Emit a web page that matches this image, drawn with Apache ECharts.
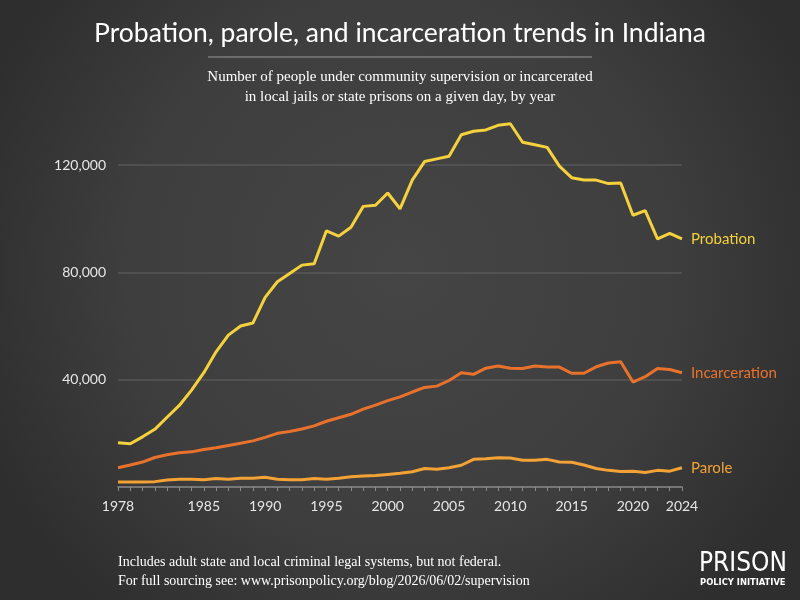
<!DOCTYPE html>
<html>
<head>
<meta charset="utf-8">
<script src="https://cdn.jsdelivr.net/npm/echarts@6/dist/echarts.min.js"></script>
<style>
  html, body { margin: 0; padding: 0; background: #3a3a3a; }
  #chart { width: 800px; height: 600px; }
</style>
</head>
<body>
<div id="chart"></div>
<script>
// data
const years = []
for (let y = 1978; y <= 2024; y++) years.push(String(y))

const probation = [16500, 16100, 18700, 21500, 26000, 30400, 36100, 42600, 50400, 56600,
  60000, 61100, 70700, 76500, 79600, 82700, 83200, 95500, 93500, 96800,
  104600, 105000, 109600, 103700, 114400, 121300, 122300, 123300, 131300, 132600,
  133100, 134800, 135400, 128500, 127600, 126600, 119600, 115300, 114400, 114400,
  113100, 113300, 101300, 103000, 92500, 94500, 92500]

const incarceration = [7200, 8200, 9300, 11000, 12000, 12800, 13100, 14000, 14600, 15500,
  16300, 17200, 18500, 20000, 20700, 21600, 22800, 24500, 25800, 27100,
  29000, 30500, 32200, 33600, 35400, 37100, 37600, 39700, 42600, 42000,
  44300, 45100, 44300, 44200, 45100, 44700, 44700, 42400, 42400, 44800,
  46200, 46700, 39100, 41100, 44200, 43800, 42600]

const parole = [1900, 1900, 1900, 2000, 2600, 2900, 2900, 2700, 3200, 2900,
  3300, 3300, 3600, 2900, 2700, 2700, 3200, 2900, 3300, 3800,
  4100, 4300, 4700, 5100, 5700, 6900, 6600, 7200, 8100, 10300,
  10500, 10900, 10800, 10000, 10000, 10300, 9300, 9200, 8200, 6900,
  6200, 5800, 5900, 5400, 6200, 5900, 7200]

const xLabelYears = ['1978', '1985', '1990', '1995', '2000', '2005', '2010', '2015', '2020', '2024']

const colProb = '#f4d13d'
const colInc = '#e8722c'
const colPar = '#f3a236'

const chart = echarts.init(document.getElementById('chart'))

function makeSeries(name, data, color) {
  return {
    name: name,
    type: 'line',
    data: data,
    symbol: 'none',
    lineStyle: { color: color, width: 3 },
    itemStyle: { color: color },
    endLabel: {
      show: true,
      formatter: '{a}',
      color: color,
      fontFamily: 'Lato',
      fontSize: 15,
      distance: 9
    },
    z: 3
  }
}

const option = {
  backgroundColor: {
    type: 'radial', x: 0.5, y: 0.45, r: 0.75,
    colorStops: [
      { offset: 0, color: '#454545' },
      { offset: 0.6, color: '#3e3e3e' },
      { offset: 1, color: '#2e2e2e' }
    ]
  },
  animation: false,
  title: {
    text: 'Probation, parole, and incarceration trends in Indiana',
    left: 'center',
    top: 15,
    textStyle: { color: '#ffffff', fontFamily: 'Lato', fontWeight: 'normal', fontSize: 26.5 }
  },
  grid: { left: 118, right: 118, top: 111.4, bottom: 113 },
  xAxis: {
    type: 'category',
    data: years,
    boundaryGap: false,
    axisLine: { lineStyle: { color: '#8a8a8a', width: 1.5 } },
    axisTick: { show: true, interval: 0, length: 4, lineStyle: { color: '#8a8a8a' } },
    axisLabel: {
      interval: function (i, v) { return xLabelYears.indexOf(v) >= 0 },
      color: '#e6e6e6',
      fontFamily: 'Lato',
      fontSize: 14,
      margin: 12
    },
    splitLine: { show: false }
  },
  yAxis: {
    type: 'value',
    min: 0,
    max: 140000,
    interval: 40000,
    axisLine: { show: false },
    axisTick: { show: false },
    axisLabel: {
      color: '#e6e6e6',
      fontFamily: 'Lato',
      fontSize: 14,
      margin: 12,
      formatter: function (v) {
        if (v === 0 || v === 140000) return ''
        return v.toLocaleString('en-US')
      }
    },
    splitLine: {
      lineStyle: {
        color: ['rgba(0,0,0,0)', '#575757', '#575757', '#575757', 'rgba(0,0,0,0)'],
        width: 1.5
      }
    }
  },
  series: [
    makeSeries('Probation', probation, colProb),
    makeSeries('Incarceration', incarceration, colInc),
    makeSeries('Parole', parole, colPar)
  ],
  graphic: [
    { type: 'line', shape: { x1: 208, y1: 57, x2: 592, y2: 57 },
      style: { stroke: '#9a9a9a', lineWidth: 1 } },
    { type: 'text', x: 400, y: 67,
      style: { text: 'Number of people under community supervision or incarcerated\nin local jails or state prisons on a given day, by year',
        fill: '#ffffff', font: '15px "Liberation Serif"', textAlign: 'center', lineHeight: 20 } },
    { type: 'text', x: 118, y: 553,
      style: { text: 'Includes adult state and local criminal legal systems, but not federal.\nFor full sourcing see: www.prisonpolicy.org/blog/2026/06/02/supervision',
        fill: '#ffffff', font: '14px "Liberation Serif"', lineHeight: 19 } },
    { type: 'text', x: 699, y: 551,
      style: { text: 'PRISON', fill: '#ffffff', font: '26px "DejaVu Sans Condensed"' } },
    { type: 'text', x: 700, y: 578,
      style: { text: 'POLICY INITIATIVE', fill: '#ffffff', font: 'bold 9.3px "DejaVu Sans Condensed"' } }
  ]
}

chart.setOption(option)
</script>
</body>
</html>
